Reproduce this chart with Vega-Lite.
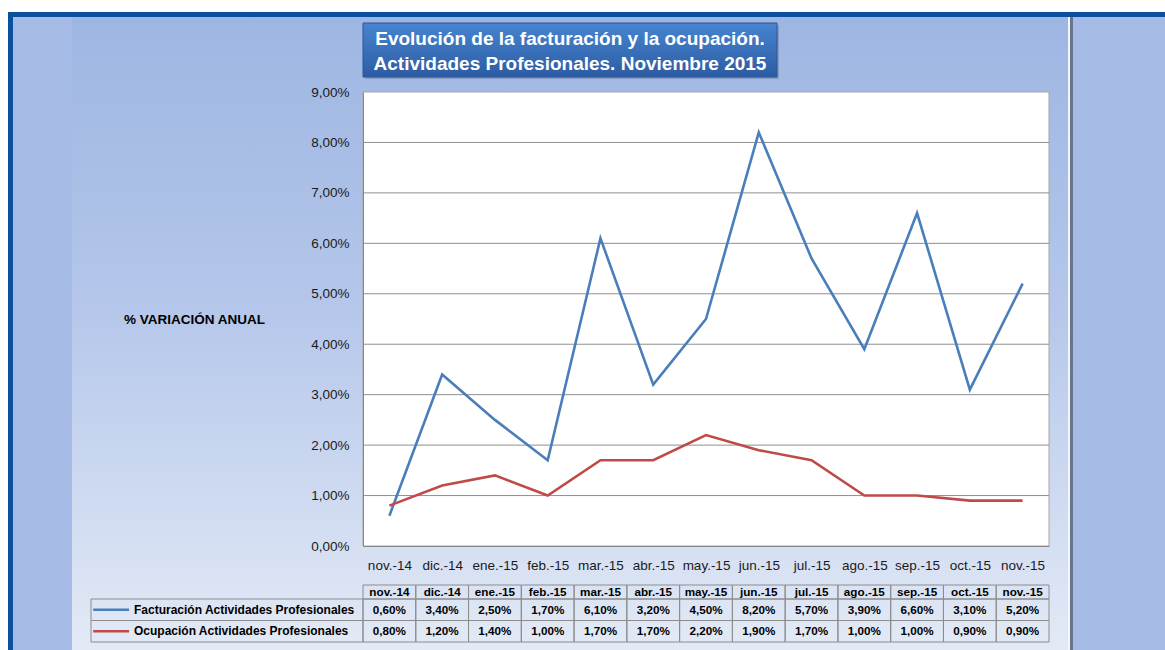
{
  "$schema": "https://vega.github.io/schema/vega-lite/v6.json",
  "width": 686,
  "height": 454,
  "autosize": {"type": "none"},
  "padding": {"left": 363, "top": 92, "right": 116, "bottom": 104},
  "background": "#a6bae6",
  "config": {
    "view": {"stroke": null, "fill": null},
    "font": "Liberation Sans",
    "locale": {"number": {"decimal": ",", "thousands": ".", "grouping": [3], "currency": ["", " €"]}}
  },
  "datasets": {
    "series": [
      {"mes": "nov.-14", "serie": "Facturación Actividades Profesionales", "valor": 0.006},
      {"mes": "dic.-14", "serie": "Facturación Actividades Profesionales", "valor": 0.034},
      {"mes": "ene.-15", "serie": "Facturación Actividades Profesionales", "valor": 0.025},
      {"mes": "feb.-15", "serie": "Facturación Actividades Profesionales", "valor": 0.017},
      {"mes": "mar.-15", "serie": "Facturación Actividades Profesionales", "valor": 0.061},
      {"mes": "abr.-15", "serie": "Facturación Actividades Profesionales", "valor": 0.032},
      {"mes": "may.-15", "serie": "Facturación Actividades Profesionales", "valor": 0.045},
      {"mes": "jun.-15", "serie": "Facturación Actividades Profesionales", "valor": 0.082},
      {"mes": "jul.-15", "serie": "Facturación Actividades Profesionales", "valor": 0.057},
      {"mes": "ago.-15", "serie": "Facturación Actividades Profesionales", "valor": 0.039},
      {"mes": "sep.-15", "serie": "Facturación Actividades Profesionales", "valor": 0.066},
      {"mes": "oct.-15", "serie": "Facturación Actividades Profesionales", "valor": 0.031},
      {"mes": "nov.-15", "serie": "Facturación Actividades Profesionales", "valor": 0.052},
      {"mes": "nov.-14", "serie": "Ocupación Actividades Profesionales", "valor": 0.008},
      {"mes": "dic.-14", "serie": "Ocupación Actividades Profesionales", "valor": 0.012},
      {"mes": "ene.-15", "serie": "Ocupación Actividades Profesionales", "valor": 0.014},
      {"mes": "feb.-15", "serie": "Ocupación Actividades Profesionales", "valor": 0.010},
      {"mes": "mar.-15", "serie": "Ocupación Actividades Profesionales", "valor": 0.017},
      {"mes": "abr.-15", "serie": "Ocupación Actividades Profesionales", "valor": 0.017},
      {"mes": "may.-15", "serie": "Ocupación Actividades Profesionales", "valor": 0.022},
      {"mes": "jun.-15", "serie": "Ocupación Actividades Profesionales", "valor": 0.019},
      {"mes": "jul.-15", "serie": "Ocupación Actividades Profesionales", "valor": 0.017},
      {"mes": "ago.-15", "serie": "Ocupación Actividades Profesionales", "valor": 0.010},
      {"mes": "sep.-15", "serie": "Ocupación Actividades Profesionales", "valor": 0.010},
      {"mes": "oct.-15", "serie": "Ocupación Actividades Profesionales", "valor": 0.009},
      {"mes": "nov.-15", "serie": "Ocupación Actividades Profesionales", "valor": 0.009}
    ]
  },
  "data": {"name": "series"},
  "resolve": {"scale": {"x": "independent", "y": "independent"}, "axis": {"x": "independent", "y": "independent"}},
  "layer": [
    {
      "data": {"values": [{}]},
      "mark": {"type": "rect", "fill": {"gradient": "linear", "x1": 0, "y1": 0, "x2": 0, "y2": 1, "stops": [{"offset": 0, "color": "#9db6e2"}, {"offset": 0.45, "color": "#b4c6ea"}, {"offset": 1, "color": "#e3eaf6"}]}},
      "encoding": {
        "x": {"datum": 0, "type": "quantitative", "scale": {"domain": [0, 1], "range": [-291, 705]}, "axis": null},
        "x2": {"datum": 1},
        "y": {"datum": 0, "type": "quantitative", "scale": {"domain": [0, 1], "range": [-75, 558]}, "axis": null},
        "y2": {"datum": 1}
      }
    },
    {
      "data": {"values": [{}]},
      "mark": {"type": "rect", "fill": "#ffffff"},
      "encoding": {
        "x": {"datum": 0, "type": "quantitative", "scale": {"domain": [0, 1], "range": [-363, 802]}, "axis": null},
        "x2": {"datum": 1},
        "y": {"datum": 0, "type": "quantitative", "scale": {"domain": [0, 1], "range": [-92, -80]}, "axis": null},
        "y2": {"datum": 1}
      }
    },
    {
      "data": {"values": [{}]},
      "mark": {"type": "rect", "fill": "#ffffff"},
      "encoding": {
        "x": {"datum": 0, "type": "quantitative", "scale": {"domain": [0, 1], "range": [-363, -355]}, "axis": null},
        "x2": {"datum": 1},
        "y": {"datum": 0, "type": "quantitative", "scale": {"domain": [0, 1], "range": [-92, 558]}, "axis": null},
        "y2": {"datum": 1}
      }
    },
    {
      "data": {"values": [{}]},
      "mark": {"type": "rect", "fill": "#0b509d"},
      "encoding": {
        "x": {"datum": 0, "type": "quantitative", "scale": {"domain": [0, 1], "range": [-355, 802]}, "axis": null},
        "x2": {"datum": 1},
        "y": {"datum": 0, "type": "quantitative", "scale": {"domain": [0, 1], "range": [-80, -75]}, "axis": null},
        "y2": {"datum": 1}
      }
    },
    {
      "data": {"values": [{}]},
      "mark": {"type": "rect", "fill": "#0b509d"},
      "encoding": {
        "x": {"datum": 0, "type": "quantitative", "scale": {"domain": [0, 1], "range": [-355, -350]}, "axis": null},
        "x2": {"datum": 1},
        "y": {"datum": 0, "type": "quantitative", "scale": {"domain": [0, 1], "range": [-80, 558]}, "axis": null},
        "y2": {"datum": 1}
      }
    },
    {
      "data": {"values": [{}]},
      "mark": {"type": "rect", "fill": "#f4f6fb"},
      "encoding": {
        "x": {"datum": 0, "type": "quantitative", "scale": {"domain": [0, 1], "range": [705, 707]}, "axis": null},
        "x2": {"datum": 1},
        "y": {"datum": 0, "type": "quantitative", "scale": {"domain": [0, 1], "range": [-75, 558]}, "axis": null},
        "y2": {"datum": 1}
      }
    },
    {
      "data": {"values": [{}]},
      "mark": {"type": "rect", "fill": "#66758c"},
      "encoding": {
        "x": {"datum": 0, "type": "quantitative", "scale": {"domain": [0, 1], "range": [707, 710]}, "axis": null},
        "x2": {"datum": 1},
        "y": {"datum": 0, "type": "quantitative", "scale": {"domain": [0, 1], "range": [-75, 558]}, "axis": null},
        "y2": {"datum": 1}
      }
    },
    {
      "data": {"values": [{}]},
      "mark": {"type": "rect", "fill": "#55688a", "opacity": 0.35},
      "encoding": {
        "x": {"datum": 0, "type": "quantitative", "scale": {"domain": [0, 1], "range": [2, 416]}, "axis": null},
        "x2": {"datum": 1},
        "y": {"datum": 0, "type": "quantitative", "scale": {"domain": [0, 1], "range": [-67, -13]}, "axis": null},
        "y2": {"datum": 1}
      }
    },
    {
      "data": {"values": [{}]},
      "mark": {"type": "rect", "stroke": "#2a5596", "strokeWidth": 1, "fill": {"gradient": "linear", "x1": 0, "y1": 0, "x2": 0, "y2": 1, "stops": [{"offset": 0, "color": "#4784d0"}, {"offset": 1, "color": "#2c5ca3"}]}},
      "encoding": {
        "x": {"datum": 0, "type": "quantitative", "scale": {"domain": [0, 1], "range": [0, 414]}, "axis": null},
        "x2": {"datum": 1},
        "y": {"datum": 0, "type": "quantitative", "scale": {"domain": [0, 1], "range": [-69, -15]}, "axis": null},
        "y2": {"datum": 1}
      }
    },
    {
      "data": {"values": [{}]},
      "mark": {"type": "text", "text": ["Evolución de la facturación y la ocupación.", "Actividades Profesionales. Noviembre 2015"], "font": "Liberation Sans", "fontSize": 19, "fontWeight": "bold", "color": "#ffffff", "align": "center", "baseline": "middle", "lineHeight": 25},
      "encoding": {
        "x": {"datum": 0.5, "type": "quantitative", "scale": {"domain": [0, 1], "range": [0, 414]}, "axis": null},
        "y": {"datum": 0.29, "type": "quantitative", "scale": {"domain": [0, 1], "range": [-69, -15]}, "axis": null}
      }
    },
    {
      "data": {"values": [{}]},
      "mark": {"type": "rect", "fill": "#ffffff", "stroke": "#a6a6a6", "strokeWidth": 1},
      "encoding": {
        "x": {"datum": 0, "type": "quantitative", "scale": {"domain": [0, 1], "range": [0, 686]}, "axis": null},
        "x2": {"datum": 1},
        "y": {"datum": 0, "type": "quantitative", "scale": {"domain": [0, 1], "range": [0, 454]}, "axis": null},
        "y2": {"datum": 1}
      }
    },
    {
      "data": {"values": [{"g": 0.01}, {"g": 0.02}, {"g": 0.03}, {"g": 0.04}, {"g": 0.05}, {"g": 0.06}, {"g": 0.07}, {"g": 0.08}]},
      "mark": {"type": "rule", "stroke": "#8f8f8f", "strokeWidth": 1},
      "encoding": {
        "y": {"field": "g", "type": "quantitative", "scale": {"domain": [0, 0.09], "nice": false}, "axis": null}
      }
    },
    {
      "mark": {"type": "line", "strokeWidth": 2.6},
      "encoding": {
        "x": {
          "field": "mes", "type": "ordinal",
          "scale": {"type": "point", "padding": 0.5, "domain": ["nov.-14", "dic.-14", "ene.-15", "feb.-15", "mar.-15", "abr.-15", "may.-15", "jun.-15", "jul.-15", "ago.-15", "sep.-15", "oct.-15", "nov.-15"]},
          "axis": {"orient": "bottom", "title": null, "labelAngle": 0, "ticks": false, "tickSize": 0, "labelPadding": 12, "labelFontSize": 13.5, "labelColor": "#1a1a1a", "labelFont": "Liberation Sans", "domainColor": "#868686", "domainWidth": 1, "grid": false, "zindex": 1}
        },
        "y": {
          "field": "valor", "type": "quantitative",
          "scale": {"domain": [0, 0.09], "nice": false},
          "axis": {"values": [0, 0.01, 0.02, 0.03, 0.04, 0.05, 0.06, 0.07, 0.08, 0.09], "format": ".2%", "grid": false, "ticks": false, "tickSize": 0, "labelPadding": 14, "labelFontSize": 13.5, "labelColor": "#1a1a1a", "labelFont": "Liberation Sans", "domainColor": "#868686", "domainWidth": 1, "zindex": 1,
                   "title": "% VARIACIÓN ANUAL", "titleAngle": 0, "titleX": -169, "titleY": 227, "titleAlign": "center", "titleBaseline": "middle", "titleFontSize": 13.5, "titleFontWeight": "bold", "titleColor": "#000000", "titleFont": "Liberation Sans"}
        },
        "color": {
          "field": "serie", "type": "nominal",
          "scale": {"domain": ["Facturación Actividades Profesionales", "Ocupación Actividades Profesionales"], "range": ["#4a7ebb", "#be4b48"]},
          "legend": null
        }
      }
    },
    {
      "transform": [{"filter": "datum.serie == 'Facturación Actividades Profesionales'"}],
      "mark": {"type": "rect", "fill": null, "stroke": "#8c8c8c", "strokeWidth": 1},
      "encoding": {
        "x": {"field": "mes", "type": "ordinal", "scale": {"type": "band", "padding": 0, "domain": ["nov.-14", "dic.-14", "ene.-15", "feb.-15", "mar.-15", "abr.-15", "may.-15", "jun.-15", "jul.-15", "ago.-15", "sep.-15", "oct.-15", "nov.-15"]}, "axis": null},
        "y": {"datum": 0, "type": "quantitative", "scale": {"domain": [0, 1], "range": [493, 507]}, "axis": null},
        "y2": {"datum": 1}
      }
    },
    {
      "transform": [{"filter": "datum.serie == 'Facturación Actividades Profesionales'"}],
      "mark": {"type": "text", "font": "Liberation Sans", "fontSize": 11.7, "fontWeight": "bold", "color": "#000000", "align": "center", "baseline": "middle"},
      "encoding": {
        "x": {"field": "mes", "type": "ordinal", "scale": {"type": "band", "padding": 0, "domain": ["nov.-14", "dic.-14", "ene.-15", "feb.-15", "mar.-15", "abr.-15", "may.-15", "jun.-15", "jul.-15", "ago.-15", "sep.-15", "oct.-15", "nov.-15"]}, "axis": null},
        "y": {"datum": 0.5, "type": "quantitative", "scale": {"domain": [0, 1], "range": [493, 507]}, "axis": null},
        "text": {"field": "mes"}
      }
    },
    {
      "mark": {"type": "rect", "fill": null, "stroke": "#8c8c8c", "strokeWidth": 1},
      "encoding": {
        "x": {"field": "mes", "type": "ordinal", "scale": {"type": "band", "padding": 0, "domain": ["nov.-14", "dic.-14", "ene.-15", "feb.-15", "mar.-15", "abr.-15", "may.-15", "jun.-15", "jul.-15", "ago.-15", "sep.-15", "oct.-15", "nov.-15"]}, "axis": null},
        "y": {"field": "serie", "type": "nominal", "scale": {"type": "band", "padding": 0, "domain": ["Facturación Actividades Profesionales", "Ocupación Actividades Profesionales"], "range": [507, 550]}, "axis": null}
      }
    },
    {
      "mark": {"type": "text", "font": "Liberation Sans", "fontSize": 11.7, "fontWeight": "bold", "color": "#000000", "align": "center", "baseline": "middle"},
      "encoding": {
        "x": {"field": "mes", "type": "ordinal", "scale": {"type": "band", "padding": 0, "domain": ["nov.-14", "dic.-14", "ene.-15", "feb.-15", "mar.-15", "abr.-15", "may.-15", "jun.-15", "jul.-15", "ago.-15", "sep.-15", "oct.-15", "nov.-15"]}, "axis": null},
        "y": {"field": "serie", "type": "nominal", "scale": {"type": "band", "padding": 0, "domain": ["Facturación Actividades Profesionales", "Ocupación Actividades Profesionales"], "range": [507, 550]}, "axis": null},
        "text": {"field": "valor", "type": "quantitative", "format": ".2%"}
      }
    },
    {
      "transform": [{"filter": "datum.mes == 'nov.-14'"}],
      "mark": {"type": "rect", "fill": null, "stroke": "#8c8c8c", "strokeWidth": 1},
      "encoding": {
        "x": {"datum": 0, "type": "quantitative", "scale": {"domain": [0, 1], "range": [-272, 0]}, "axis": null},
        "x2": {"datum": 1},
        "y": {"field": "serie", "type": "nominal", "scale": {"type": "band", "padding": 0, "domain": ["Facturación Actividades Profesionales", "Ocupación Actividades Profesionales"], "range": [507, 550]}, "axis": null}
      }
    },
    {
      "transform": [{"filter": "datum.mes == 'nov.-14'"}],
      "mark": {"type": "rule", "strokeWidth": 2.6},
      "encoding": {
        "x": {"datum": 0.008, "type": "quantitative", "scale": {"domain": [0, 1], "range": [-272, 0]}, "axis": null},
        "x2": {"datum": 0.14},
        "y": {"field": "serie", "type": "nominal", "bandPosition": 0.5, "scale": {"type": "band", "padding": 0, "domain": ["Facturación Actividades Profesionales", "Ocupación Actividades Profesionales"], "range": [507, 550]}, "axis": null},
        "color": {"field": "serie", "type": "nominal", "legend": null}
      }
    },
    {
      "transform": [{"filter": "datum.mes == 'nov.-14'"}],
      "mark": {"type": "text", "font": "Liberation Sans", "fontSize": 12, "fontWeight": "bold", "color": "#000000", "align": "left", "baseline": "middle"},
      "encoding": {
        "x": {"datum": 0.158, "type": "quantitative", "scale": {"domain": [0, 1], "range": [-272, 0]}, "axis": null},
        "y": {"field": "serie", "type": "nominal", "scale": {"type": "band", "padding": 0, "domain": ["Facturación Actividades Profesionales", "Ocupación Actividades Profesionales"], "range": [507, 550]}, "axis": null},
        "text": {"field": "serie"}
      }
    }
  ]
}
